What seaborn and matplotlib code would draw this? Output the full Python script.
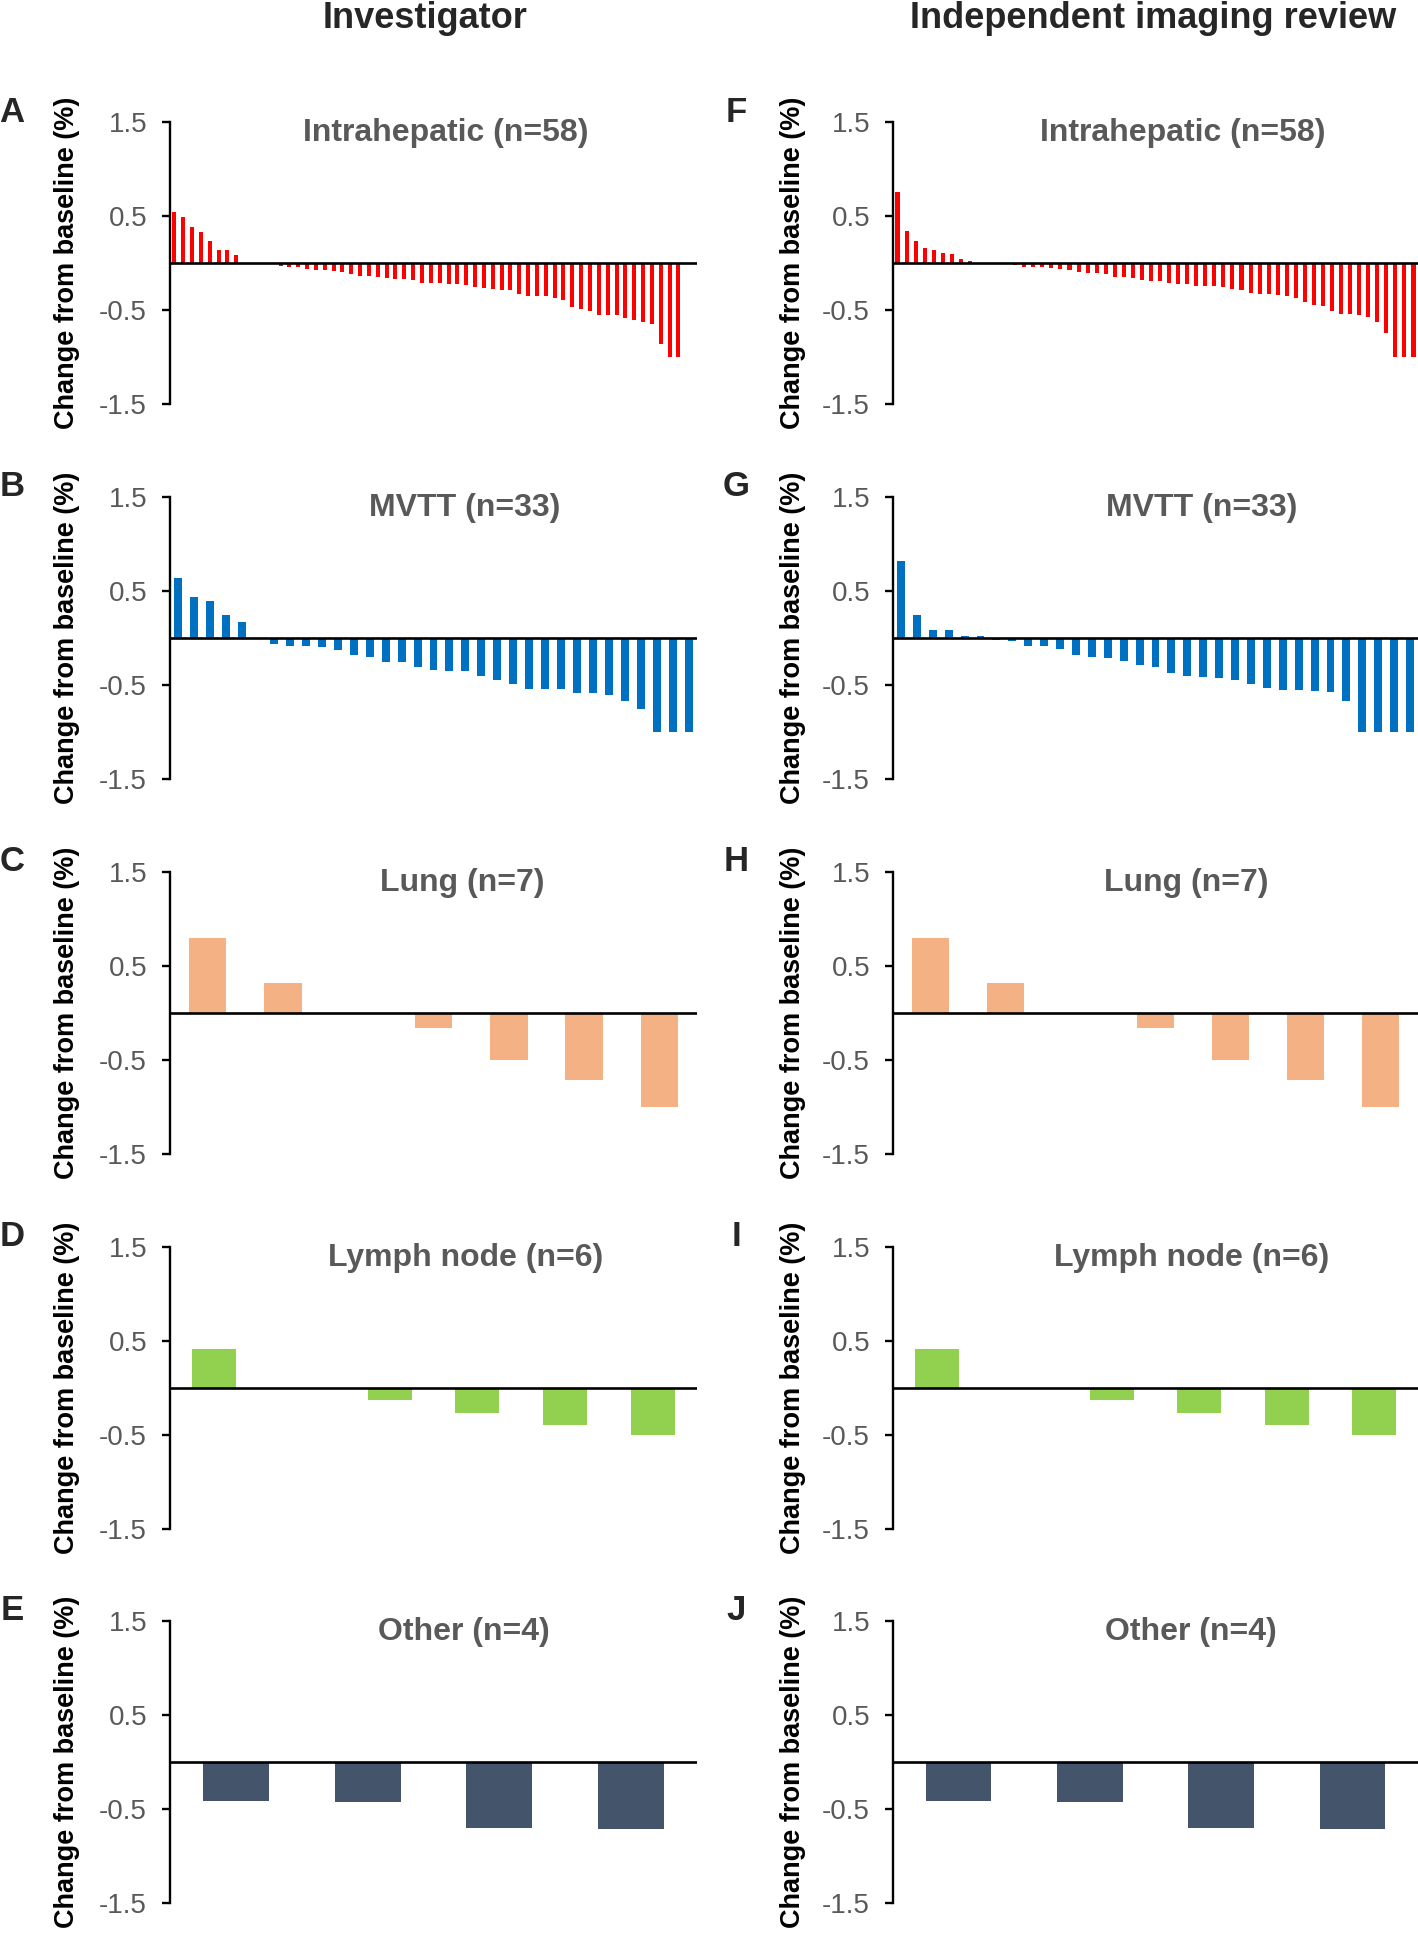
import numpy as np
import pandas as pd
import matplotlib
matplotlib.use("Agg")
import matplotlib.pyplot as plt
import seaborn as sns

# Best response per lesion type, change from baseline (%)
intra_investigator = [0.54, 0.49, 0.38, 0.33, 0.23, 0.14, 0.14, 0.08,
                      0.0, 0.0, 0.0, 0.0,
                      -0.03, -0.04, -0.04, -0.06, -0.07, -0.07, -0.08, -0.10, -0.12, -0.14,
                      -0.14, -0.15, -0.16, -0.17, -0.17, -0.18, -0.21, -0.21, -0.21, -0.22,
                      -0.22, -0.23, -0.26, -0.27, -0.28, -0.29, -0.29, -0.33, -0.35, -0.35,
                      -0.35, -0.37, -0.39, -0.47, -0.49, -0.51, -0.55, -0.55, -0.55, -0.58,
                      -0.61, -0.63, -0.65, -0.86, -1.00, -1.00]
intra_review = [0.76, 0.34, 0.23, 0.16, 0.14, 0.11, 0.10, 0.04, 0.02,
                0.0, 0.0, 0.0, 0.0,
                -0.02, -0.04, -0.04, -0.04, -0.05, -0.06, -0.07, -0.10, -0.11, -0.11,
                -0.12, -0.15, -0.15, -0.16, -0.18, -0.19, -0.19, -0.21, -0.22, -0.22,
                -0.24, -0.24, -0.24, -0.26, -0.28, -0.29, -0.32, -0.33, -0.33, -0.34,
                -0.35, -0.37, -0.41, -0.45, -0.46, -0.51, -0.54, -0.54, -0.55, -0.57,
                -0.63, -0.74, -1.00, -1.00, -1.00]
mvtt_investigator = [0.64, 0.44, 0.39, 0.25, 0.17, 0.0,
                     -0.06, -0.08, -0.08, -0.10, -0.13, -0.18, -0.20, -0.26, -0.26, -0.31,
                     -0.34, -0.35, -0.35, -0.40, -0.45, -0.49, -0.54, -0.54, -0.54, -0.58,
                     -0.59, -0.61, -0.67, -0.76, -1.00, -1.00, -1.00]
mvtt_review = [0.82, 0.24, 0.09, 0.09, 0.02, 0.02, -0.02, -0.03, -0.08, -0.09,
               -0.12, -0.18, -0.20, -0.21, -0.24, -0.29, -0.31, -0.37, -0.40, -0.41,
               -0.43, -0.45, -0.49, -0.53, -0.55, -0.55, -0.56, -0.57, -0.67, -1.00,
               -1.00, -1.00, -1.00]
lung_investigator = [0.80, 0.32, 0.0, -0.16, -0.50, -0.71, -1.00]
lung_review = [0.80, 0.32, 0.0, -0.16, -0.50, -0.71, -1.00]
lymph_investigator = [0.42, 0.0, -0.13, -0.27, -0.39, -0.50]
lymph_review = [0.42, 0.0, -0.13, -0.27, -0.39, -0.50]
other_investigator = [-0.42, -0.43, -0.70, -0.71]
other_review = [-0.42, -0.43, -0.70, -0.71]

row_titles = ["Intrahepatic (n=58)", "MVTT (n=33)", "Lung (n=7)", "Lymph node (n=6)", "Other (n=4)"]
row_colors = ["#FF0000", "#0070C0", "#F4B183", "#92D050", "#44546A"]
left_letters = ["A", "B", "C", "D", "E"]
right_letters = ["F", "G", "H", "I", "J"]
col_headers = ["Investigator", "Independent imaging review"]
ytick_values = [1.5, 0.5, -0.5, -1.5]
ytick_labels = ["1.5", "0.5", "-0.5", "-1.5"]

left_data = [intra_investigator, mvtt_investigator, lung_investigator, lymph_investigator, other_investigator]
right_data = [intra_review, mvtt_review, lung_review, lymph_review, other_review]

sns.set_style("white")
plt.rcParams['font.family'] = ['Liberation Sans', 'DejaVu Sans']
plt.rcParams['axes.unicode_minus'] = False

W, H = 1418, 1934
fig = plt.figure(figsize=(W / 100, H / 100), dpi=100)

# layout in pixels
col_left = [170, 893]
col_width = [527, 525]
row_top = [122, 497, 872, 1247, 1621]
ax_h = 282
bar_width = [0.45, 0.5, 0.5, 0.5, 0.5]
title_x = [[0.524, 0.56, 0.555, 0.561, 0.557], [0.552, 0.588, 0.558, 0.569, 0.568]]
letter_x = [12, 736]


def draw_panel(ax, values, color, width, title, tx, xright):
    df = pd.DataFrame({'patient': np.arange(len(values)), 'change': values})
    sns.barplot(data=df, x='patient', y='change', color=color, saturation=1,
                width=width, errorbar=None, linewidth=0, ax=ax)
    ax.axhline(0, color='black', lw=1.9, zorder=3)
    ax.set_ylim(-1.5, 1.5)
    ax.set_xlim(-0.5, xright)
    ax.set_yticks(ytick_values)
    ax.set_yticklabels(ytick_labels)
    ax.set_xticks([])
    ax.set_xlabel('')
    ax.set_ylabel('Change from baseline (%)', fontsize=19.5, fontweight='bold', color='black')
    for s in ['top', 'right', 'bottom']:
        ax.spines[s].set_visible(False)
    ax.spines['left'].set_color('black')
    ax.spines['left'].set_linewidth(1.7)
    ax.tick_params(axis='y', direction='out', length=5.5, width=1.7, color='black',
                   labelsize=20, labelcolor='#595959', pad=11, left=True)
    ax.text(tx, 0.96, title, transform=ax.transAxes, ha='center', va='center',
            fontsize=23, fontweight='bold', color='#595959')


for c, data in enumerate([left_data, right_data]):
    for r in range(5):
        rect = [col_left[c] / W, 1 - (row_top[r] + ax_h) / H, col_width[c] / W, ax_h / H]
        ax = fig.add_axes(rect)
        n = len(data[r])
        if r == 0 and c == 0:
            xright = n + 1.1
        else:
            xright = n - 0.5
        draw_panel(ax, data[r], row_colors[r], bar_width[r], row_titles[r], title_x[c][r], xright)
        ax.yaxis.set_label_coords(-0.17 if c == 0 else -0.165, 0.5)
        letter = left_letters[r] if c == 0 else right_letters[r]
        fig.text(letter_x[c] / W, 1 - (row_top[r] - 10) / H, letter, fontsize=25,
                 fontweight='bold', ha='center', va='center')

fig.text(425 / W, 1 - 28 / H, col_headers[0], fontsize=26, fontweight='bold', ha='center', va='baseline')
fig.text(1153 / W, 1 - 28 / H, col_headers[1], fontsize=26, fontweight='bold', ha='center', va='baseline')

fig.savefig("out.png", dpi=100)
